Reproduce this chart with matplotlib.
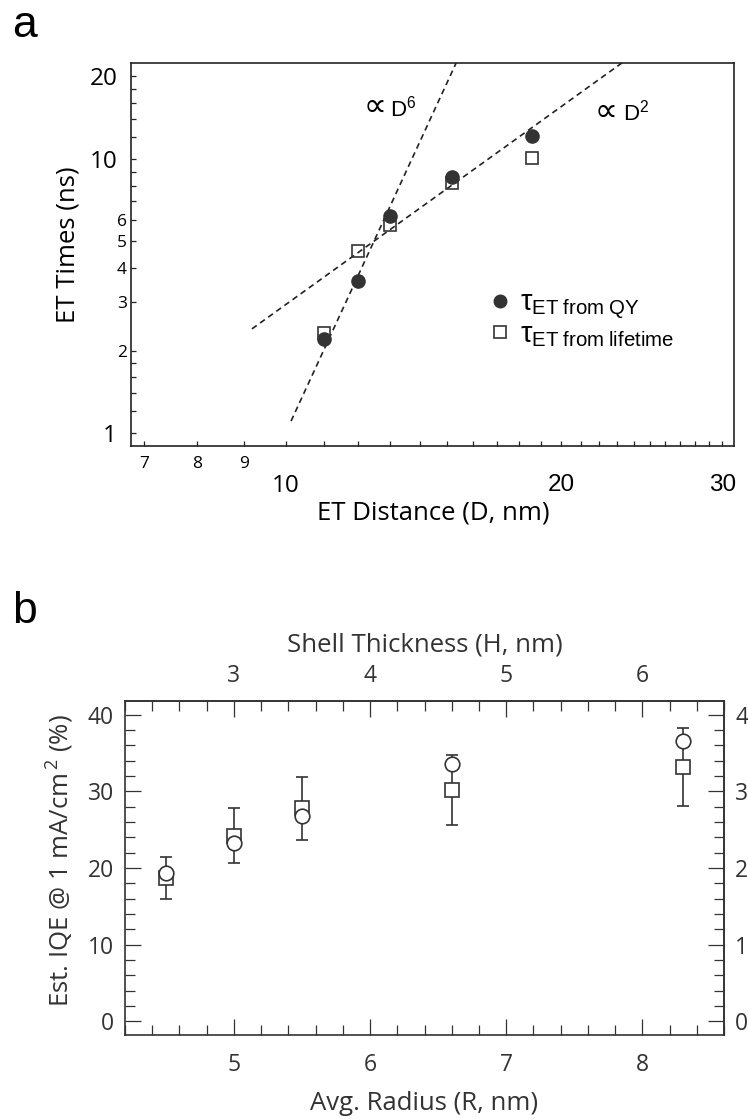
import matplotlib.pyplot as plt
from matplotlib.ticker import FixedLocator, FixedFormatter, NullLocator, MultipleLocator
from matplotlib.font_manager import FontProperties

plt.rcParams['font.family'] = ['Open Sans', 'DejaVu Sans']
plt.rcParams['mathtext.default'] = 'regular'

# ---- panel a: ET times vs ET distance ----
dist = [11.0, 12.0, 13.0, 15.2, 18.6]
tau_qy = [2.2, 3.6, 6.2, 8.6, 12.1]
tau_life = [2.32, 4.6, 5.75, 8.2, 10.1]
# dashed guide lines (end points)
d6_dist = [10.13, 15.35]
d6_tau = [1.106, 22.4]
d2_dist = [9.18, 23.3]
d2_tau = [2.4, 22.4]

xtick_vals = list(range(7, 31))
xtick_text = {7: '7', 8: '8', 9: '9', 10: '10', 20: '20', 30: '30'}
ytick_vals = [1, 1.2, 1.4, 1.6, 1.8, 2, 3, 4, 5, 6, 7, 8, 9, 10, 12, 14, 16, 18, 20]
ytick_text = {1: '1', 2: '2', 3: '3', 4: '4', 5: '5', 6: '6', 10: '10', 20: '20'}

# ---- panel b: IQE vs radius ----
radius = [4.5, 5.0, 5.5, 6.6, 8.3]
iqe_circ = [19.4, 23.3, 26.8, 33.6, 36.6]
iqe_sq = [18.7, 24.2, 27.8, 30.2, 33.2]
iqe_err = [2.75, 3.6, 4.1, 4.6, 5.05]

ink = '#222222'
ink2 = '#333333'

fig = plt.figure(figsize=(7.48, 11.19), dpi=100)

ax = fig.add_axes([131/748, 1-446/1119, 603/748, 383/1119])
ax.set_xscale('log')
ax.set_yscale('log')
ax.plot(d6_dist, d6_tau, ls=(0, (3.5, 2.5)), color=ink, lw=1.2)
ax.plot(d2_dist, d2_tau, ls=(0, (3.5, 2.5)), color=ink, lw=1.2)
ax.plot(dist, tau_qy, 'o', ms=9.5, color='#333333',
        label=r'$\tau_{\mathregular{ET\ from\ QY}}$')
ax.plot(dist, tau_life, 's', ms=9, mfc='none', mec='#333333', mew=1.2,
        label=r'$\tau_{\mathregular{ET\ from\ lifetime}}$')
ax.set_xlim(6.77, 30.9)
ax.set_ylim(0.897, 22.4)

ax.xaxis.set_major_locator(FixedLocator(xtick_vals))
ax.xaxis.set_major_formatter(FixedFormatter([xtick_text.get(v, '') for v in xtick_vals]))
ax.xaxis.set_minor_locator(NullLocator())
ax.yaxis.set_major_locator(FixedLocator(ytick_vals))
ax.yaxis.set_major_formatter(FixedFormatter([ytick_text.get(v, '') for v in ytick_vals]))
ax.yaxis.set_minor_locator(NullLocator())
ax.tick_params(which='both', direction='in', top=False, right=False,
               color=ink, width=0.9, labelcolor='black')
for sp in ax.spines.values():
    sp.set_linewidth(1.2)
    sp.set_color(ink)

for t, v in zip(ax.xaxis.get_major_ticks(), xtick_vals):
    if v == 10:
        size, fs, pad = 11, 17.5, 20.5
    elif v in (20, 30):
        size, fs, pad = 7, 17.5, 20
        t.label1.set_family('Liberation Sans')
    elif v in (7, 8, 9):
        size, fs, pad = 6.5, 12.5, 7
    else:
        size, fs, pad = 3, 12, 7
    t.tick1line.set_markersize(size)
    t.label1.set_fontsize(fs)
    t.set_pad(pad)

for t, v in zip(ax.yaxis.get_major_ticks(), ytick_vals):
    if v in (1, 10):
        size, fs, pad = 11.5, 17.5, 10
    elif v == 20:
        size, fs, pad = 7.7, 17.5, 9.5
    elif v in (2, 3, 4, 5, 6):
        size, fs, pad = 7.7, 12.5, 3
    else:
        size, fs, pad = 4.5, 12, 3
    t.tick1line.set_markersize(size)
    t.label1.set_fontsize(fs)
    t.set_pad(pad)

ax.set_xlabel('ET Distance (D, nm)', fontsize=18.5)
ax.xaxis.set_label_coords(0.502, -0.143)
ax.set_ylabel('ET Times (ns)', fontsize=18.5)
ax.yaxis.set_label_coords(-0.083, 0.525)

# power-law annotations
ax.text(0.386, 0.8616, '\u221d', transform=ax.transAxes,
        fontsize=23, family='DejaVu Sans', va='baseline')
ax.text(0.4295, 0.8616, 'D$^{6}$', transform=ax.transAxes,
        fontsize=16, family='Liberation Sans', va='baseline')
ax.text(0.768, 0.8486, '\u221d', transform=ax.transAxes,
        fontsize=23, family='DejaVu Sans', va='baseline')
ax.text(0.816, 0.8486, 'D$^{2}$', transform=ax.transAxes,
        fontsize=16, family='Liberation Sans', va='baseline')

ax.legend(loc='upper left', bbox_to_anchor=(0.595, 0.41), frameon=False,
          prop=FontProperties(family='Liberation Sans', size=21, math_fontfamily='stix'),
          handlelength=0.7, handletextpad=0.35, labelspacing=-0.05, borderpad=0,
          borderaxespad=0, markerscale=0.95)

fig.text(12/748, 1-37/1119, 'a', fontsize=32, family='Liberation Sans', va='baseline')
fig.text(12/748, 1-623/1119, 'b', fontsize=32, family='Liberation Sans', va='baseline')

# ---- panel b ----
ax2 = fig.add_axes([125/748, 1-1035/1119, 599/748, 334/1119])
ax2.errorbar(radius, iqe_sq, yerr=iqe_err, fmt='none', ecolor=ink2, elinewidth=1.2,
             capsize=4.3, capthick=1.2, zorder=2)
ax2.plot(radius, iqe_sq, 's', ms=9.5, mfc='white', mec=ink2, mew=1.2, zorder=3)
ax2.plot(radius, iqe_circ, 'o', ms=10.5, mfc='white', mec=ink2, mew=1.2, zorder=4)
ax2.set_xlim(4.2, 8.6)
ax2.set_ylim(-1.8, 41.8)
ax2.set_xticks([5, 6, 7, 8])
ax2.xaxis.set_minor_locator(MultipleLocator(0.2))
ax2.set_yticks([0, 10, 20, 30, 40])
ax2.yaxis.set_minor_locator(MultipleLocator(2))
ax2.tick_params(which='both', direction='in', top=False, right=False,
                color=ink2, width=0.9, labelcolor=ink2, labelsize=16.5)
ax2.tick_params(which='major', length=11.5)
ax2.tick_params(which='minor', length=7.5)
ax2.tick_params(axis='x', pad=13)
ax2.tick_params(axis='y', pad=8)
for sp in ax2.spines.values():
    sp.set_linewidth(1.2)
    sp.set_color(ink2)

sec_top = ax2.secondary_xaxis('top', functions=(lambda r: r - 2, lambda h: h + 2))
sec_top.set_xticks([3, 4, 5, 6])
sec_top.xaxis.set_minor_locator(MultipleLocator(0.2))
sec_top.tick_params(which='both', direction='in', color=ink2, width=0.9,
                    labelcolor=ink2, labelsize=16.5, pad=9)
sec_top.tick_params(which='major', length=11.5)
sec_top.tick_params(which='minor', length=7.5)
sec_top.spines['top'].set_linewidth(1.2)
sec_top.spines['top'].set_color(ink2)
sec_top.set_xlabel('Shell Thickness (H, nm)', fontsize=18.5, color=ink2)
sec_top.xaxis.set_label_coords(0.5, (1035-651)/334, transform=ax2.transAxes)

sec_right = ax2.secondary_yaxis('right', functions=(lambda v: v / 10, lambda v: v * 10))
sec_right.set_yticks([0, 1, 2, 3, 4])
sec_right.yaxis.set_minor_locator(MultipleLocator(0.2))
sec_right.tick_params(which='both', direction='in', color=ink2, width=0.9,
                      labelcolor=ink2, labelsize=16.5, pad=8)
sec_right.tick_params(which='major', length=11.5)
sec_right.tick_params(which='minor', length=7.5)
sec_right.spines['right'].set_linewidth(1.2)
sec_right.spines['right'].set_color(ink2)

ax2.set_xlabel('Avg. Radius (R, nm)', fontsize=18.5, color=ink2)
ax2.xaxis.set_label_coords(0.499, -0.168)
ax2.set_ylabel(r'Est. IQE @ 1 mA/cm$^{\,2}$ (%)', fontsize=18.5, color=ink2)
ax2.yaxis.set_label_coords(-0.081, 0.522)

fig.savefig('out.png', dpi=100)
